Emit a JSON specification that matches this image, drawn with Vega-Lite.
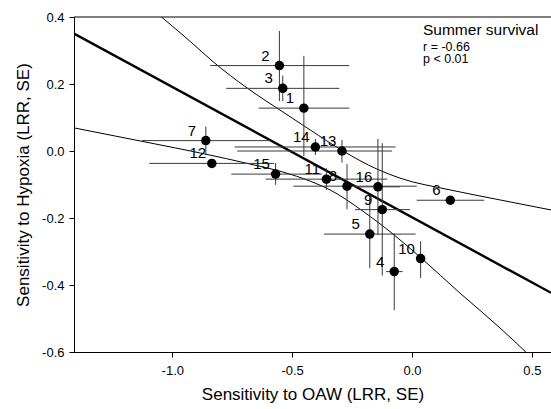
{
  "$schema": "https://vega.github.io/schema/vega-lite/v6.json",
  "autosize": "none",
  "width": 477,
  "height": 335,
  "padding": {"left": 74, "top": 17, "right": 0, "bottom": 57},
  "background": "white",
  "config": {
    "view": {"stroke": null},
    "font": "Liberation Sans",
    "axis": {
      "grid": false,
      "domainColor": "black",
      "tickColor": "black",
      "labelColor": "black",
      "titleColor": "black",
      "labelFont": "Liberation Sans",
      "titleFont": "Liberation Sans",
      "labelFontSize": 13,
      "titleFontSize": 17,
      "titleFontWeight": "normal",
      "tickSize": 5
    }
  },
  "datasets": {
    "pts": [
      {"id": "1", "x": -0.451, "y": 0.128, "xlo": -0.640, "xhi": -0.261, "ylo": -0.015, "yhi": 0.284},
      {"id": "2", "x": -0.553, "y": 0.255, "xlo": -0.842, "xhi": -0.262, "ylo": 0.149, "yhi": 0.358},
      {"id": "3", "x": -0.539, "y": 0.187, "xlo": -0.775, "xhi": -0.303, "ylo": 0.149, "yhi": 0.225},
      {"id": "4", "x": -0.074, "y": -0.360, "xlo": -0.108, "xhi": -0.039, "ylo": -0.475, "yhi": -0.246},
      {"id": "5", "x": -0.176, "y": -0.248, "xlo": -0.367, "xhi": 0.015, "ylo": -0.350, "yhi": -0.130},
      {"id": "6", "x": 0.160, "y": -0.147, "xlo": 0.020, "xhi": 0.301, "ylo": -0.155, "yhi": -0.139},
      {"id": "7", "x": -0.860, "y": 0.031, "xlo": -1.126, "xhi": -0.592, "ylo": -0.009, "yhi": 0.073},
      {"id": "8", "x": -0.271, "y": -0.105, "xlo": -0.495, "xhi": 0.020, "ylo": -0.174, "yhi": -0.039},
      {"id": "9", "x": -0.124, "y": -0.175, "xlo": -0.238, "xhi": -0.008, "ylo": -0.372, "yhi": 0.023},
      {"id": "10", "x": 0.036, "y": -0.321, "xlo": 0.028, "xhi": 0.044, "ylo": -0.379, "yhi": -0.269},
      {"id": "11", "x": -0.357, "y": -0.084, "xlo": -0.610, "xhi": -0.103, "ylo": -0.116, "yhi": -0.051},
      {"id": "12", "x": -0.835, "y": -0.037, "xlo": -1.096, "xhi": -0.575, "ylo": -0.045, "yhi": -0.029},
      {"id": "13", "x": -0.292, "y": 0.000, "xlo": -0.729, "xhi": -0.083, "ylo": -0.035, "yhi": 0.033},
      {"id": "14", "x": -0.403, "y": 0.012, "xlo": -0.740, "xhi": -0.068, "ylo": -0.012, "yhi": 0.036},
      {"id": "15", "x": -0.569, "y": -0.069, "xlo": -0.754, "xhi": -0.376, "ylo": -0.101, "yhi": -0.036},
      {"id": "16", "x": -0.142, "y": -0.107, "xlo": -0.238, "xhi": -0.050, "ylo": -0.251, "yhi": 0.036}
    ],
    "fit": [
      {"x": -1.41, "y": 0.3506},
      {"x": 0.58, "y": -0.4233}
    ],
    "bands": [
      {"band": "upper", "o": 1, "x": -1.045, "y": 0.400},
      {"band": "upper", "o": 2, "x": -0.925, "y": 0.327},
      {"band": "upper", "o": 3, "x": -0.829, "y": 0.266},
      {"band": "upper", "o": 4, "x": -0.6875, "y": 0.188},
      {"band": "upper", "o": 5, "x": -0.5375, "y": 0.116},
      {"band": "upper", "o": 6, "x": -0.425, "y": 0.063},
      {"band": "upper", "o": 7, "x": -0.2875, "y": 0.000},
      {"band": "upper", "o": 8, "x": -0.146, "y": -0.054},
      {"band": "upper", "o": 9, "x": -0.05, "y": -0.081},
      {"band": "upper", "o": 10, "x": 0.158, "y": -0.116},
      {"band": "upper", "o": 11, "x": 0.367, "y": -0.146},
      {"band": "upper", "o": 12, "x": 0.58, "y": -0.176},
      {"band": "lower", "o": 1, "x": -1.41, "y": 0.069},
      {"band": "lower", "o": 2, "x": -1.092, "y": 0.024},
      {"band": "lower", "o": 3, "x": -0.883, "y": -0.006},
      {"band": "lower", "o": 4, "x": -0.675, "y": -0.039},
      {"band": "lower", "o": 5, "x": -0.5375, "y": -0.063},
      {"band": "lower", "o": 6, "x": -0.425, "y": -0.090},
      {"band": "lower", "o": 7, "x": -0.342, "y": -0.116},
      {"band": "lower", "o": 8, "x": -0.204, "y": -0.180},
      {"band": "lower", "o": 9, "x": -0.079, "y": -0.248},
      {"band": "lower", "o": 10, "x": 0.0375, "y": -0.319},
      {"band": "lower", "o": 11, "x": 0.2, "y": -0.424},
      {"band": "lower", "o": 12, "x": 0.367, "y": -0.528},
      {"band": "lower", "o": 13, "x": 0.475, "y": -0.600}
    ],
    "notes": [
      {"t": "Summer survival", "x": 0.046, "y": 0.346, "s": 15.5},
      {"t": "r = -0.66", "x": 0.046, "y": 0.300, "s": 12.5},
      {"t": "p < 0.01", "x": 0.046, "y": 0.2612, "s": 12.5}
    ],
    "frame": [{"top": 0.4}]
  },
  "layer": [
    {
      "data": {"name": "frame"},
      "mark": {"type": "rule", "color": "black", "strokeWidth": 1},
      "encoding": {"y": {"field": "top", "type": "quantitative", "scale": {"domain": [-0.6, 0.4], "nice": false}}}
    },
    {
      "data": {"name": "bands"},
      "mark": {"type": "line", "color": "black", "strokeWidth": 1, "interpolate": "monotone", "clip": true},
      "encoding": {
        "x": {"field": "x", "type": "quantitative"},
        "y": {"field": "y", "type": "quantitative"},
        "detail": {"field": "band"},
        "order": {"field": "o"}
      }
    },
    {
      "data": {"name": "fit"},
      "mark": {"type": "line", "color": "black", "strokeWidth": 2.4, "clip": true},
      "encoding": {
        "x": {"field": "x", "type": "quantitative"},
        "y": {"field": "y", "type": "quantitative"}
      }
    },
    {
      "data": {"name": "pts"},
      "mark": {"type": "rule", "color": "#3a3a3a", "strokeWidth": 1},
      "encoding": {
        "x": {"field": "xlo", "type": "quantitative"},
        "x2": {"field": "xhi"},
        "y": {"field": "y", "type": "quantitative"}
      }
    },
    {
      "data": {"name": "pts"},
      "mark": {"type": "rule", "color": "#3a3a3a", "strokeWidth": 1},
      "encoding": {
        "x": {"field": "x", "type": "quantitative"},
        "y": {"field": "ylo", "type": "quantitative"},
        "y2": {"field": "yhi"}
      }
    },
    {
      "data": {"name": "pts"},
      "mark": {"type": "circle", "color": "black", "opacity": 1, "size": 90},
      "encoding": {
        "x": {"field": "x", "type": "quantitative"},
        "y": {"field": "y", "type": "quantitative"}
      }
    },
    {
      "data": {"name": "pts"},
      "mark": {"type": "text", "fontSize": 15, "color": "black", "dx": -14, "dy": -10, "align": "center", "baseline": "middle", "font": "Liberation Sans"},
      "encoding": {
        "x": {"field": "x", "type": "quantitative"},
        "y": {"field": "y", "type": "quantitative"},
        "text": {"field": "id"}
      }
    },
    {
      "data": {"name": "notes"},
      "mark": {"type": "text", "color": "black", "align": "left", "baseline": "alphabetic", "font": "Liberation Sans"},
      "encoding": {
        "x": {"field": "x", "type": "quantitative"},
        "y": {"field": "y", "type": "quantitative"},
        "text": {"field": "t"},
        "size": {"field": "s", "type": "quantitative", "scale": null, "legend": null}
      }
    }
  ],
  "encoding": {
    "x": {
      "type": "quantitative",
      "scale": {"domain": [-1.41, 0.58], "nice": false, "zero": false},
      "axis": {"values": [-1.0, -0.5, 0.0, 0.5], "format": ".1f", "labelExpr": "replace(datum.label, '\u2212', '-')", "labelPadding": 7, "titlePadding": 9, "title": "Sensitivity to OAW (LRR, SE)"}
    },
    "y": {
      "type": "quantitative",
      "scale": {"domain": [-0.6, 0.4], "nice": false, "zero": false},
      "axis": {"values": [-0.6, -0.4, -0.2, 0.0, 0.2, 0.4], "format": ".1f", "labelExpr": "replace(datum.label, '\u2212', '-')", "labelPadding": 5, "titlePadding": 9, "title": "Sensitivity to Hypoxia (LRR, SE)"}
    }
  }
}
